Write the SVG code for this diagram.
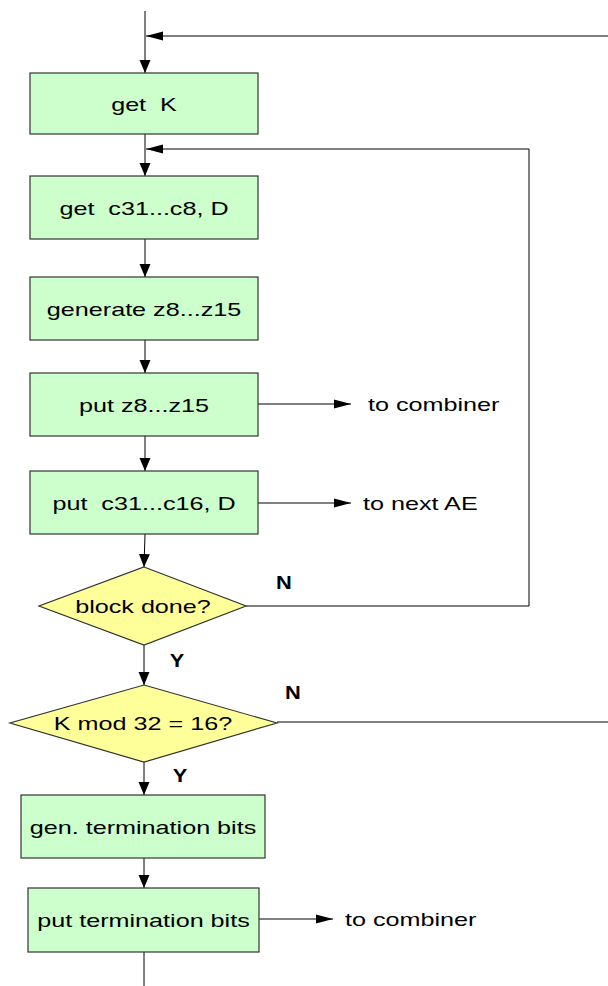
<svg xmlns="http://www.w3.org/2000/svg" width="608" height="986" viewBox="0 0 608 986">
  <style>
    .box { fill: #ccffcc; stroke: #333333; stroke-width: 1.2; }
    .dec { fill: #ffff99; stroke: #333333; stroke-width: 1.2; }
    .ln { fill: none; stroke: #000000; stroke-width: 1; }
    .t { font-family: "Liberation Sans", Arial, sans-serif; font-size: 18.5px; fill: #000000; white-space: pre; }
    .c { text-anchor: middle; }
    .yn { font-family: "Liberation Sans", Arial, sans-serif; font-size: 19px; font-weight: bold; fill: #000000; text-anchor: middle; }
  </style>
  <defs>
    <marker id="arrV" markerUnits="userSpaceOnUse" markerWidth="14" markerHeight="12" viewBox="0 -6 14 12" refX="13" refY="0" orient="auto">
      <path d="M0,-5.5 L13,0 L0,5.5 Z" fill="#000"/>
    </marker>
    <marker id="arrH" markerUnits="userSpaceOnUse" markerWidth="18" markerHeight="10" viewBox="0 -5 18 10" refX="17" refY="0" orient="auto">
      <path d="M0,-4.5 L17,0 L0,4.5 Z" fill="#000"/>
    </marker>
  </defs>

  <g id="connectors">
    <line class="ln" x1="145" y1="11" x2="145" y2="73" marker-end="url(#arrV)"/>
    <line class="ln" x1="608" y1="36" x2="146" y2="36" marker-end="url(#arrH)"/>
    <line class="ln" x1="145" y1="134" x2="145" y2="176" marker-end="url(#arrV)"/>
    <polyline class="ln" points="246,606 529,606 529,149 146,149" marker-end="url(#arrH)"/>
    <line class="ln" x1="145" y1="239" x2="145" y2="277" marker-end="url(#arrV)"/>
    <line class="ln" x1="145" y1="340" x2="145" y2="373" marker-end="url(#arrV)"/>
    <line class="ln" x1="258" y1="404" x2="351" y2="404" marker-end="url(#arrH)"/>
    <line class="ln" x1="145" y1="436" x2="145" y2="471" marker-end="url(#arrV)"/>
    <line class="ln" x1="258" y1="503" x2="351" y2="503" marker-end="url(#arrH)"/>
    <line class="ln" x1="145" y1="534" x2="144" y2="567" marker-end="url(#arrV)"/>
    <line class="ln" x1="144" y1="645" x2="144" y2="685" marker-end="url(#arrV)"/>
    <line class="ln" x1="277" y1="722" x2="608" y2="722"/>
    <line class="ln" x1="144" y1="762" x2="144" y2="795" marker-end="url(#arrV)"/>
    <line class="ln" x1="144" y1="858" x2="144" y2="888" marker-end="url(#arrV)"/>
    <line class="ln" x1="259" y1="919" x2="333" y2="919" marker-end="url(#arrH)"/>
    <line class="ln" x1="144" y1="952" x2="144" y2="986"/>
  </g>

  <g id="n-getK">
    <rect class="box" x="30" y="73" width="228" height="61"/>
    <text class="t c" transform="translate(144,110.5) scale(1.36,1)">get  K</text>
  </g>
  <g id="n-getC">
    <rect class="box" x="30" y="176" width="228" height="63"/>
    <text class="t c" transform="translate(144,214.5) scale(1.36,1)">get  c31...c8, D</text>
  </g>
  <g id="n-gen">
    <rect class="box" x="30" y="277" width="228" height="63"/>
    <text class="t c" transform="translate(144,315.5) scale(1.36,1)">generate z8...z15</text>
  </g>
  <g id="n-putZ">
    <rect class="box" x="30" y="373" width="228" height="63"/>
    <text class="t c" transform="translate(144,411.5) scale(1.36,1)">put z8...z15</text>
  </g>
  <g id="n-putC">
    <rect class="box" x="30" y="471" width="228" height="63"/>
    <text class="t c" transform="translate(144,509.5) scale(1.36,1)">put  c31...c16, D</text>
  </g>
  <g id="n-block">
    <polygon class="dec" points="144,567 246,606 144,645 39,606"/>
    <text class="t c" transform="translate(143,613) scale(1.36,1)">block done?</text>
  </g>
  <g id="n-kmod">
    <polygon class="dec" points="144,685 277,723 144,762 10,723"/>
    <text class="t c" transform="translate(143,730) scale(1.36,1)">K mod 32 = 16?</text>
  </g>
  <g id="n-genT">
    <rect class="box" x="21" y="795" width="244" height="63"/>
    <text class="t c" transform="translate(143,833.5) scale(1.36,1)">gen. termination bits</text>
  </g>
  <g id="n-putT">
    <rect class="box" x="28" y="888" width="231" height="64"/>
    <text class="t c" transform="translate(143.5,927) scale(1.36,1)">put termination bits</text>
  </g>

  <g id="labels">
    <text class="t" transform="translate(368,411) scale(1.36,1)">to combiner</text>
    <text class="t" transform="translate(363,510) scale(1.36,1)">to next AE</text>
    <text class="t" transform="translate(345,926) scale(1.36,1)">to combiner</text>
    <text class="yn" transform="translate(284,589) scale(1.15,1)">N</text>
    <text class="yn" transform="translate(177,667) scale(1.15,1)">Y</text>
    <text class="yn" transform="translate(293,699) scale(1.15,1)">N</text>
    <text class="yn" transform="translate(180,782) scale(1.15,1)">Y</text>
  </g>
</svg>
